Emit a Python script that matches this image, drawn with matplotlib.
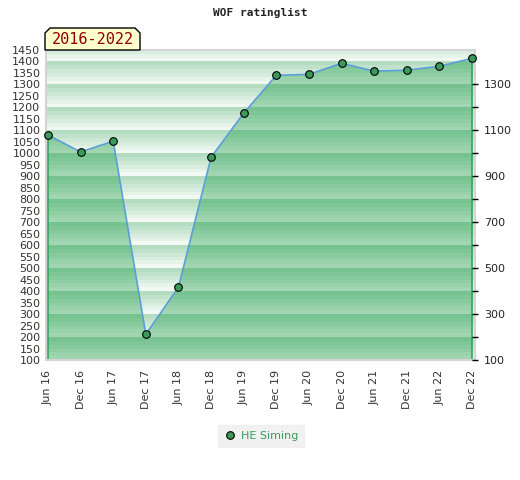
import numpy as np
import matplotlib.pyplot as plt
from matplotlib.patches import Polygon
from matplotlib.colors import LinearSegmentedColormap

# data
labels = ['Jun 16', 'Dec 16', 'Jun 17', 'Dec 17', 'Jun 18', 'Dec 18', 'Jun 19',
          'Dec 19', 'Jun 20', 'Dec 20', 'Jun 21', 'Dec 21', 'Jun 22', 'Dec 22']
ratings = [1080, 1006, 1053, 212, 417, 983, 1175,
           1340, 1344, 1392, 1358, 1362, 1379, 1414]
player = 'HE Siming'
period = '2016-2022'

ymin, ymax = 100, 1450
left_ticks = list(range(100, 1451, 50))
right_major = list(range(100, 1301, 200))
right_minor = list(range(200, 1201, 200))

fig = plt.figure(figsize=(5.2, 4.8), dpi=100)
ax = fig.add_axes([46/520, 1-360/480, 429/520, 310/480])
x = np.arange(len(ratings))
x0, x1 = -0.06, len(ratings) - 1 + 0.09
ax.set_xlim(x0, x1)
ax.set_ylim(ymin, ymax)

# striped background, each 100-point band fades from top (darker) to bottom
yy = np.linspace(ymax, ymin, 1350)
frac = np.floor(((yy % 100) / 100) * 6) / 5.0
grad = frac.reshape(-1, 1)

light = LinearSegmentedColormap.from_list('light', ['#f2f9f4', '#b4dcc0'])
dark = LinearSegmentedColormap.from_list('dark', ['#a2d6b2', '#76c290'])

ax.imshow(grad, cmap=light, aspect='auto', extent=[x0, x1, ymin, ymax],
          vmin=0, vmax=1, zorder=0, interpolation='nearest')
img = ax.imshow(grad, cmap=dark, aspect='auto', extent=[x0, x1, ymin, ymax],
                vmin=0, vmax=1, zorder=1, interpolation='nearest')

verts = [(x[0], ymin)] + list(zip(x, ratings)) + [(x[-1], ymin)]
poly = Polygon(verts, closed=True, facecolor='none', edgecolor='none')
ax.add_patch(poly)
img.set_clip_path(poly)

ax.plot([x[0], x[0]], [ymin, ratings[0]], color='#2ea85a', lw=1.2, zorder=2)
ax.plot([x[-1], x[-1]], [ymin, ratings[-1]], color='#2ea85a', lw=1.2, zorder=2)
ax.plot(x, ratings, color='#5b9fd8', lw=1.2, zorder=3)
ax.plot(x, ratings, 'o', ms=5.5, mfc='#3a9a5a', mec='black', mew=0.8,
        zorder=4, label=player, clip_on=False)

ax.set_xticks(x)
ax.set_xticklabels(labels, rotation=90, fontsize=8, color='#333333')
ax.set_yticks(left_ticks)
ax.set_yticklabels([str(v) for v in left_ticks], fontsize=8, color='#333333')
ax.tick_params(axis='both', length=0, pad=4)
ax.tick_params(axis='x', pad=7)

for s in ax.spines.values():
    s.set_color('#d4d4d4')
    s.set_linewidth(1.5)

ax2 = ax.twinx()
ax2.set_ylim(ymin, ymax)
ax2.set_yticks(right_major)
ax2.set_yticklabels([str(v) for v in right_major], fontsize=8, color='#222222')
ax2.set_yticks(right_minor, minor=True)
ax2.tick_params(axis='y', which='both', direction='inout', length=5,
                width=1, color='black', pad=4)
for s in ax2.spines.values():
    s.set_visible(False)

fig.text(0.5, 1-13/480, 'WOF ratinglist', ha='center', va='center',
         fontsize=8, family='DejaVu Sans Mono', fontweight='bold', color='#222222')

# period tag with cut top corners
bx0, bx1, by0, by1, c = 45, 140, 50, 28, 5
tag = Polygon([(bx0/520, 1-by0/480), (bx0/520, 1-(by1+c)/480),
               ((bx0+c)/520, 1-by1/480), ((bx1-c)/520, 1-by1/480),
               (bx1/520, 1-(by1+c)/480), (bx1/520, 1-by0/480)],
              closed=True, transform=fig.transFigure, facecolor='#ffffcc',
              edgecolor='black', lw=1)
fig.patches.append(tag)
fig.text((bx0+bx1)/2/520, 1-(by0+by1)/2/480 - 0.002, period, ha='center',
         va='center', fontsize=11, family='DejaVu Sans Mono', color='#8b0000')

leg = fig.legend(loc='center', bbox_to_anchor=(261/520, 1-436/480), frameon=True,
                 fontsize=8, handletextpad=0.4, handlelength=1.2,
                 borderpad=0.5, fancybox=False)
leg.get_frame().set_facecolor('#eeeeee')
leg.get_frame().set_edgecolor('#eeeeee')
for t in leg.get_texts():
    t.set_color('#3a9a5a')

fig.savefig('out.png', dpi=100)
